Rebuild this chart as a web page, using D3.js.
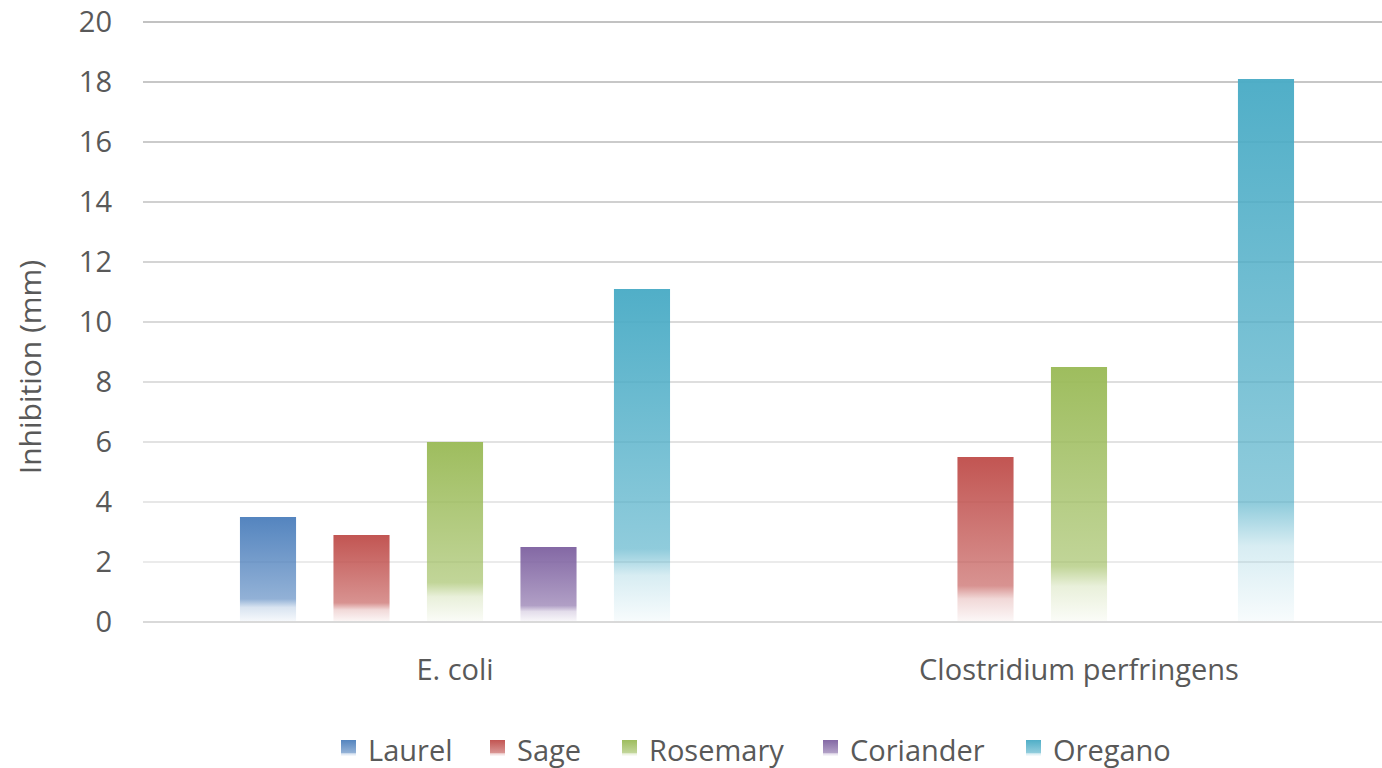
<!DOCTYPE html>
<html>
<head>
<meta charset="utf-8">
<script src="https://cdn.jsdelivr.net/npm/d3@7"></script>
<style>
  body { margin: 0; background: #fff; }
  text { font-family: "Open Sans", "Noto Sans", sans-serif; fill: #595959; }
</style>
</head>
<body>
<svg id="chart" width="1382" height="768"></svg>
<script>
const categories = ["E. coli", "Clostridium perfringens"];
const series = ["Laurel", "Sage", "Rosemary", "Coriander", "Oregano"];
const colors = ["#4f81bd", "#c0504d", "#9bbb59", "#8064a2", "#4bacc6"];
// values per series, one per category (null = no bar)
const laurel = [3.5, null];
const sage = [2.9, 5.5];
const rosemary = [6.0, 8.5];
const coriander = [2.5, null];
const oregano = [11.1, 18.1];
const yTicks = [0, 2, 4, 6, 8, 10, 12, 14, 16, 18, 20];

const values = [laurel, sage, rosemary, coriander, oregano];
const svg = d3.select("#chart");
const W = 1382, H = 768;
const plotLeft = 143, plotRight = 1382;
const fontSize = "29px";

const x0 = d3.scaleBand().domain(categories).range([143, 1391]);
const x1 = d3.scaleBand().domain(series).range([0, x0.bandwidth()])
  .paddingInner(0.4).paddingOuter(1.037);
const y = d3.scaleLinear().domain([0, 20]).range([622, 22]);
const gridColor = d3.scaleLinear().domain([0, 20]).range(["#f0f0f0", "#c2c2c2"]);

// gradients for bars (fade out at the bottom)
const defs = svg.append("defs");
series.forEach((s, i) => {
  const g = defs.append("linearGradient")
    .attr("id", "grad" + i)
    .attr("x1", 0).attr("y1", 0).attr("x2", 0).attr("y2", 1);
  [[0, 0.97], [0.78, 0.62], [0.86, 0.22], [1, 0.04]].forEach(([o, a]) => {
    g.append("stop").attr("offset", o).attr("stop-color", colors[i]).attr("stop-opacity", a);
  });
});

// gridlines
svg.append("g")
  .selectAll("line")
  .data(yTicks.filter(d => d > 0))
  .enter()
  .append("line")
  .attr("x1", plotLeft).attr("x2", plotRight)
  .attr("y1", d => y(d)).attr("y2", d => y(d))
  .attr("stroke", d => gridColor(d))
  .attr("stroke-width", 2);

// y axis labels
svg.append("g")
  .attr("transform", `translate(${plotLeft},0)`)
  .call(d3.axisLeft(y).tickValues(yTicks).tickSize(0).tickPadding(31))
  .call(g => g.select(".domain").remove())
  .selectAll("text")
  .style("font-size", fontSize)
  .style("font-family", "'Open Sans', sans-serif")
  .attr("fill", "#595959");

// bars
const groups = svg.append("g")
  .selectAll("g")
  .data(categories)
  .enter()
  .append("g")
  .attr("transform", d => `translate(${x0(d)},0)`);

groups.selectAll("rect")
  .data((c, ci) => series.map((s, si) => ({ s, si, v: values[si][ci] })).filter(d => d.v != null))
  .enter()
  .append("rect")
  .attr("x", d => x1(d.s))
  .attr("width", x1.bandwidth())
  .attr("y", d => y(d.v))
  .attr("height", d => y(0) - y(d.v))
  .attr("fill", d => `url(#grad${d.si})`);

// baseline
svg.append("line")
  .attr("x1", plotLeft).attr("x2", plotRight)
  .attr("y1", y(0)).attr("y2", y(0))
  .attr("stroke", "#d9d9d9")
  .attr("stroke-width", 2);

// category labels
svg.append("g")
  .attr("transform", `translate(0,${y(0)})`)
  .call(d3.axisBottom(x0).tickSize(0).tickPadding(37))
  .call(g => g.select(".domain").remove())
  .selectAll("text")
  .style("font-size", fontSize)
  .style("font-family", "'Open Sans', sans-serif")
  .attr("fill", "#595959");

// y axis title
svg.append("text")
  .attr("transform", `translate(41,${(y(0) + y(20)) / 2 + 45}) rotate(-90)`)
  .attr("text-anchor", "middle")
  .style("font-size", "30px")
  .text("Inhibition (mm)");

// legend
const legendX = [341, 490, 622, 823, 1026];
const legend = svg.append("g")
  .selectAll("g")
  .data(series)
  .enter()
  .append("g")
  .attr("transform", (d, i) => `translate(${legendX[i]},740)`);
legend.append("rect")
  .attr("width", 15).attr("height", 16)
  .attr("fill", (d, i) => `url(#grad${i})`);
legend.append("text")
  .attr("x", 27).attr("y", 21)
  .style("font-size", fontSize)
  .text(d => d);
</script>
</body>
</html>
